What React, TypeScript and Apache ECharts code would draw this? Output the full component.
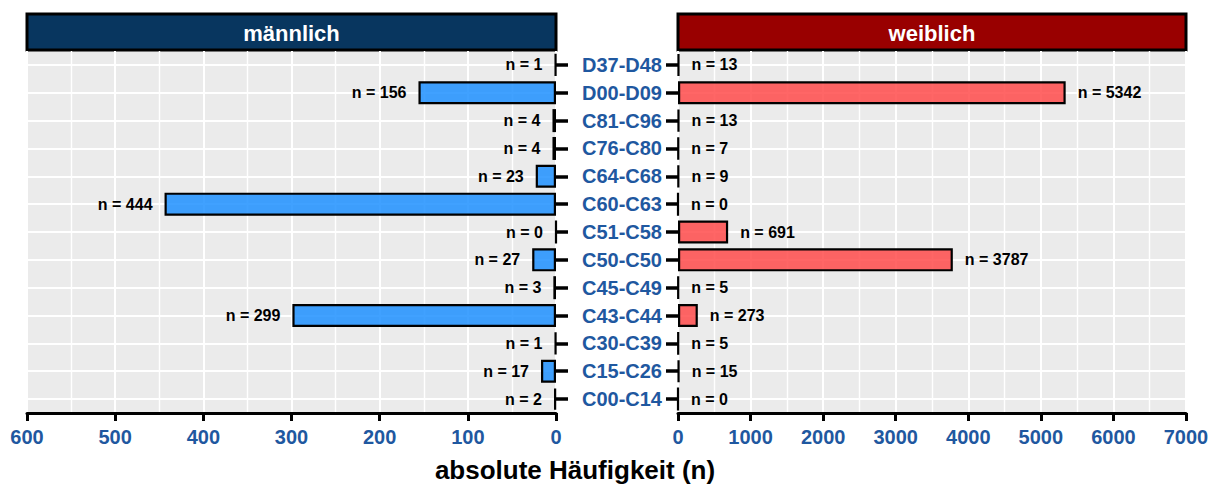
import React, { useEffect, useRef } from "react";
import * as echarts from "echarts";

const categories = [
  "D37-D48", "D00-D09", "C81-C96", "C76-C80", "C64-C68", "C60-C63", "C51-C58",
  "C50-C50", "C45-C49", "C43-C44", "C30-C39", "C15-C26", "C00-C14",
];
const maleValues = [1, 156, 4, 4, 23, 444, 0, 27, 3, 299, 1, 17, 2];
const femaleValues = [13, 5342, 13, 7, 9, 0, 691, 3787, 5, 273, 5, 15, 0];
const maleRange = { min: 0, max: 600, interval: 100 };
const femaleRange = { min: 0, max: 7000, interval: 1000 };
const panelTitles = ["männlich", "weiblich"];
const axisTitle = "absolute Häufigkeit (n)";

const FONT = "'Liberation Sans', Arial, sans-serif";
const BLUE = "#1F58A0";

export default function App() {
  const ref = useRef<HTMLDivElement>(null);
  useEffect(() => {
    if (!ref.current) return;
    const chart = echarts.init(ref.current, undefined, { renderer: "svg" });

    const xAxisCommon = (gridIndex: number, range: any, inverse: boolean) => ({
      type: "value",
      gridIndex,
      inverse,
      min: range.min,
      max: range.max,
      interval: range.interval,
      axisLine: { show: true, lineStyle: { color: "#000", width: 3 } },
      axisTick: { show: true, length: 8, lineStyle: { color: "#000", width: 3 } },
      axisLabel: {
        color: BLUE,
        fontWeight: "bold",
        fontSize: 20,
        fontFamily: FONT,
        margin: 14,
        formatter: (v: number) => String(v),
      },
      splitLine: { show: true, lineStyle: { color: "#fff", width: 2 } },
      minorTick: { show: false, splitNumber: 2 },
      minorSplitLine: { show: true, lineStyle: { color: "#fff", width: 1.4 } },
    });

    const yAxisFor = (gridIndex: number, position: string, labels: boolean) => ({
      type: "category",
      gridIndex,
      data: categories,
      inverse: true,
      position,
      axisLine: { show: false },
      axisTick: {
        show: true,
        interval: 0,
        alignWithLabel: true,
        length: 12,
        lineStyle: { color: "#000", width: 3.5 },
      },
      axisLabel: {
        show: labels,
        interval: 0,
        color: BLUE,
        fontWeight: "bold",
        fontSize: 20,
        fontFamily: FONT,
        margin: 16,
      },
      splitLine: {
        show: true,
        interval: 0,
        alignWithLabel: true,
        lineStyle: { color: "#fff", width: 2 },
      },
    });

    const labelStyle = {
      show: true,
      formatter: "n = {c}",
      fontWeight: "bold",
      fontSize: 16,
      fontFamily: FONT,
      color: "#000",
      textBorderWidth: 0,
      textBorderColor: "transparent",
      distance: 12,
    };

    chart.setOption({
      animation: false,
      textStyle: { fontFamily: FONT },
      grid: [
        { left: 27, top: 51, width: 529, height: 362, show: true, backgroundColor: "#EBEBEB", borderWidth: 0 },
        { left: 678, top: 51, width: 508, height: 362, show: true, backgroundColor: "#EBEBEB", borderWidth: 0 },
      ],
      xAxis: [xAxisCommon(0, maleRange, true), xAxisCommon(1, femaleRange, false)],
      yAxis: [yAxisFor(0, "right", false), yAxisFor(1, "left", true)],
      series: [
        {
          type: "bar",
          name: panelTitles[0],
          xAxisIndex: 0,
          yAxisIndex: 0,
          data: maleValues,
          barWidth: 23,
          itemStyle: { color: "rgba(30,144,255,0.85)", borderColor: "#000", borderWidth: 2.2 },
          label: { ...labelStyle, position: "left" },
          z: 5,
        },
        {
          type: "bar",
          name: panelTitles[1],
          xAxisIndex: 1,
          yAxisIndex: 1,
          data: femaleValues,
          barWidth: 23,
          itemStyle: { color: "rgba(255,75,75,0.85)", borderColor: "#000", borderWidth: 2.2 },
          label: { ...labelStyle, position: "right" },
          z: 5,
        },
      ],
      graphic: [
        {
          type: "rect",
          shape: { x: 27, y: 14, width: 529, height: 36 },
          style: { fill: "#08365F", stroke: "#000", lineWidth: 3 },
        },
        {
          type: "text",
          x: 291.5,
          y: 33,
          style: {
            text: panelTitles[0],
            fill: "#fff",
            font: `bold 22px ${FONT}`,
            textAlign: "center",
            textVerticalAlign: "middle",
          },
        },
        {
          type: "rect",
          shape: { x: 678, y: 14, width: 508, height: 36 },
          style: { fill: "#990000", stroke: "#000", lineWidth: 3 },
        },
        {
          type: "text",
          x: 932,
          y: 33,
          style: {
            text: panelTitles[1],
            fill: "#fff",
            font: `bold 22px ${FONT}`,
            textAlign: "center",
            textVerticalAlign: "middle",
          },
        },
        {
          type: "text",
          x: 575,
          y: 470,
          style: {
            text: axisTitle,
            fill: "#000",
            font: `bold 26px ${FONT}`,
            textAlign: "center",
            textVerticalAlign: "middle",
          },
        },
      ],
    });
    return () => chart.dispose();
  }, []);
  return (
    <div
      ref={ref}
      style={{ position: "fixed", left: 0, top: 0, width: 1219, height: 487, background: "#fff" }}
    />
  );
}
